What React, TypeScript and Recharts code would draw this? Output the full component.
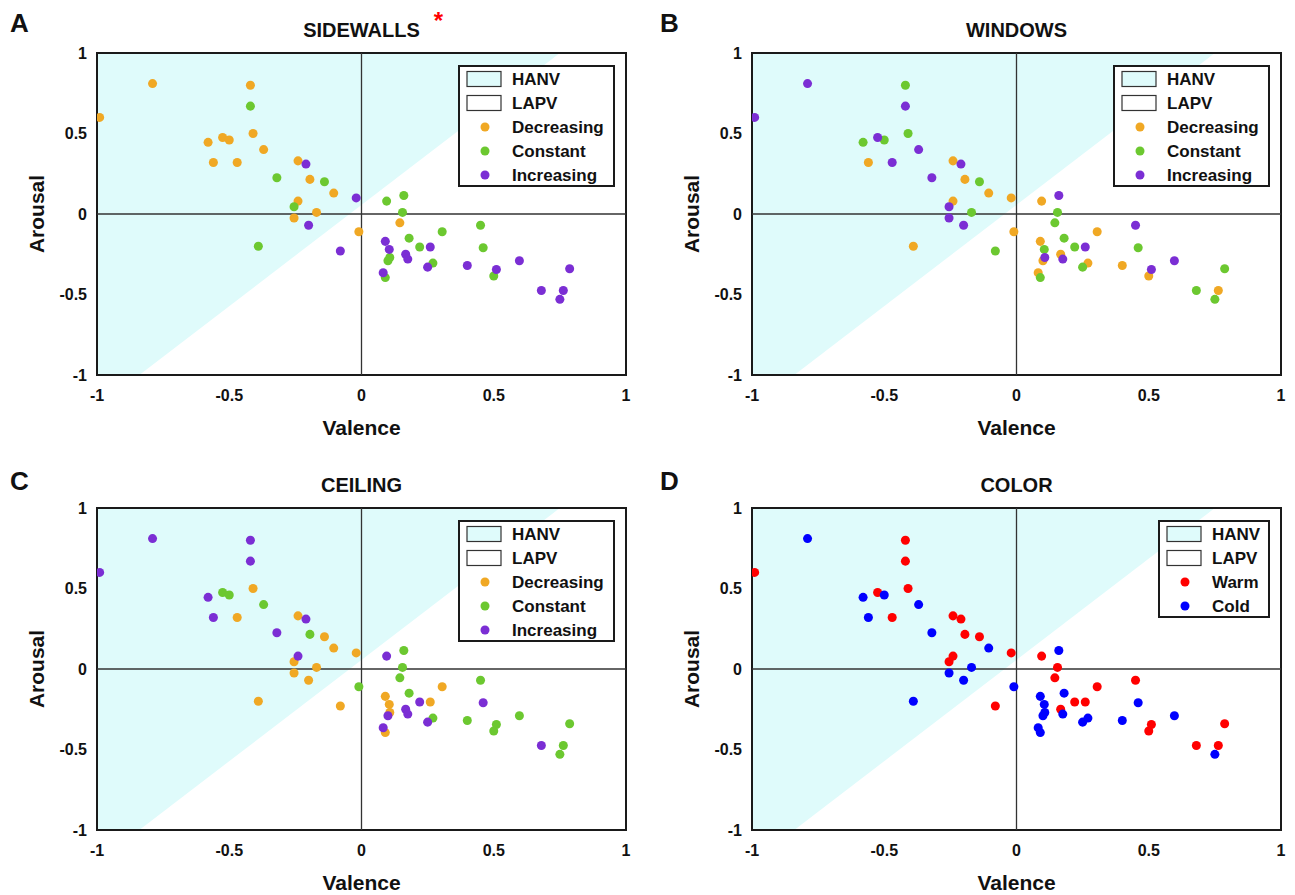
import React from 'react'
import {
  ComposedChart,
  Area,
  Scatter,
  XAxis,
  YAxis,
  ReferenceLine,
  ReferenceArea,
  Legend,
  Label,
} from 'recharts'

// one point per stimulus, same positions in every panel
const valence = [
  -0.79, -0.42, -0.42, -0.99, -0.58, -0.525, -0.5, -0.41, -0.37, -0.56,
  -0.47, -0.24, -0.21, -0.32, -0.195, -0.14, -0.105, -0.02, -0.24, -0.255,
  -0.17, -0.255, -0.2, -0.01, -0.39, -0.08,
  0.095, 0.16, 0.155, 0.145, 0.305, 0.45, 0.09, 0.18, 0.105, 0.22,
  0.26, 0.46, 0.107, 0.1, 0.167, 0.175, 0.27, 0.25, 0.4, 0.51,
  0.5, 0.597, 0.787, 0.082, 0.09, 0.68, 0.763, 0.75,
]
const arousal = [
  0.81, 0.8, 0.67, 0.6, 0.445, 0.475, 0.46, 0.5, 0.4, 0.32,
  0.32, 0.33, 0.31, 0.225, 0.215, 0.2, 0.13, 0.1, 0.08, 0.045,
  0.01, -0.025, -0.07, -0.11, -0.2, -0.23,
  0.08, 0.115, 0.01, -0.055, -0.11, -0.07, -0.17, -0.15, -0.22, -0.205,
  -0.205, -0.21, -0.27, -0.29, -0.25, -0.28, -0.305, -0.33, -0.32, -0.345,
  -0.385, -0.29, -0.34, -0.365, -0.395, -0.475, -0.475, -0.53,
]

// D = decreasing, C = constant, I = increasing / W = warm, K = cold
const sidewalls = ('DDCDDDDDDD' + 'DDICDCDIDC' + 'DDIDCI' + 'CCCDCCICIC' + 'ICCCIICIII' + 'CIIICIII').split('')
const windows = ('ICIICICCID' + 'IDIIDCDDDI' + 'CIIDDC' + 'DICCDIDCCC' + 'ICIDDIDCDI' + 'DICDCCDC').split('')
const ceiling = ('IIIIICCDCI' + 'DDIICDDDID' + 'DDDCDD' + 'ICCCDCDCDI' + 'DIDIIICICC' + 'CCCIDICC').split('')
const color = ('KWWWKWKWKK' + 'WWWKWWKWWW' + 'KKKKKW' + 'WKWWWWKKKW' + 'WKKKWKKKKW' + 'WKWKKWWK').split('')

// HANV region: filled band between low and high edge
const hanvValence = [-1, -0.84, 0.75]
const hanvLow = [-1, -1, 1]
const hanvHigh = [1, 1, 1]

const ticks = [-1, -0.5, 0, 0.5, 1]

const CYAN = '#dffbfb'
const FONT = '"Liberation Sans", Arial, Helvetica, sans-serif'

const trendGroups = [
  { key: 'D', name: 'Decreasing', color: '#f0a824' },
  { key: 'C', name: 'Constant', color: '#6cc830' },
  { key: 'I', name: 'Increasing', color: '#7b2ed4' },
]
const colorGroups = [
  { key: 'W', name: 'Warm', color: '#ff0000' },
  { key: 'K', name: 'Cold', color: '#0000ff' },
]

const panels = [
  { letter: 'A', title: 'SIDEWALLS', star: true, labels: sidewalls, groups: trendGroups, legendWidth: 157, left: 0, top: 0 },
  { letter: 'B', title: 'WINDOWS', star: false, labels: windows, groups: trendGroups, legendWidth: 157, left: 655, top: 0 },
  { letter: 'C', title: 'CEILING', star: false, labels: ceiling, groups: trendGroups, legendWidth: 157, left: 0, top: 455 },
  { letter: 'D', title: 'COLOR', star: false, labels: color, groups: colorGroups, legendWidth: 112, left: 655, top: 455 },
]

const W = 640
const H = 445
const PLOT_LEFT = 97
const PLOT_RIGHT = 626
const PLOT_TOP = 53

function LegendBox({ groups, width }) {
  const rows = [
    { kind: 'patch', name: 'HANV', fill: CYAN },
    { kind: 'patch', name: 'LAPV', fill: '#ffffff' },
    ...groups.map((g) => ({ kind: 'dot', name: g.name, fill: g.color })),
  ]
  const h = rows.length * 24 + 2
  return (
    <svg width={width} height={h} style={{ display: 'block' }}>
      <rect x={1} y={1} width={width - 2} height={h - 2} fill="#fff" stroke="#1a1a1a" strokeWidth={2} />
      {rows.map((r, i) => {
        const cy = 14 + i * 24
        return (
          <g key={r.name}>
            {r.kind === 'patch' ? (
              <rect x={9} y={cy - 7.5} width={34} height={15} fill={r.fill} stroke="#333" strokeWidth={1.2} />
            ) : (
              <circle cx={27} cy={cy} r={4.5} fill={r.fill} />
            )}
            <text x={54} y={cy} dominantBaseline="central" fontFamily={FONT} fontWeight="bold" fontSize={17} fill="#111">
              {r.name}
            </text>
          </g>
        )
      })}
    </svg>
  )
}

function Panel({ cfg }) {
  const hanvData = hanvValence.map((v, i) => ({ v, band: [hanvLow[i], hanvHigh[i]] }))
  const points = valence.map((v, i) => ({ v, a: arousal[i], k: cfg.labels[i] }))
  const legendH = (cfg.groups.length + 2) * 24 + 2
  const tickStyle = { fontFamily: FONT, fontWeight: 'bold', fontSize: 16, fill: '#111' }
  const labelStyle = { fontFamily: FONT, fontWeight: 'bold', fontSize: 21, fill: '#111' }

  return (
    <div style={{ position: 'absolute', left: cfg.left, top: cfg.top, width: W, height: H }}>
      <div
        style={{
          position: 'absolute',
          left: PLOT_LEFT,
          width: PLOT_RIGHT - PLOT_LEFT,
          top: 20,
          textAlign: 'center',
          fontFamily: FONT,
          fontWeight: 'bold',
          fontSize: 20,
          lineHeight: '20px',
          color: '#111',
        }}
      >
        <span style={{ position: 'relative' }}>
          {cfg.title}
          {cfg.star && (
            <span style={{ position: 'absolute', left: '100%', marginLeft: 14, top: -8, color: '#ff0000', fontSize: 24 }}>*</span>
          )}
        </span>
      </div>
      <ComposedChart width={W} height={H} margin={{ top: PLOT_TOP, right: W - PLOT_RIGHT, bottom: 10, left: 20 }}>
        <XAxis
          type="number"
          dataKey="v"
          domain={[-1, 1]}
          ticks={ticks}
          allowDataOverflow
          axisLine={false}
          tickLine={false}
          tickSize={0}
          tickMargin={15}
          tick={tickStyle}
          height={60}
        >
          <Label value="Valence" position="insideBottom" offset={0} style={labelStyle} />
        </XAxis>
        <YAxis
          type="number"
          domain={[-1, 1]}
          ticks={ticks}
          allowDataOverflow
          axisLine={false}
          tickLine={false}
          tickSize={0}
          tickMargin={10}
          tick={tickStyle}
          width={77}
        >
          <Label value="Arousal" angle={-90} position="insideLeft" offset={17} style={{ ...labelStyle, textAnchor: 'middle' }} />
        </YAxis>
        <Area
          data={hanvData}
          dataKey="band"
          type="linear"
          fill={CYAN}
          fillOpacity={1}
          stroke="none"
          dot={false}
          activeDot={false}
          legendType="none"
          isAnimationActive={false}
        />
        <ReferenceLine x={0} stroke="#333" strokeWidth={1.3} />
        <ReferenceLine y={0} stroke="#333" strokeWidth={1.3} />
        <ReferenceArea x1={-1} x2={1} y1={-1} y2={1} fill="none" stroke="#1a1a1a" strokeWidth={2} />
        {cfg.groups.map((g) => (
          <Scatter
            key={g.key}
            name={g.name}
            data={points.filter((p) => p.k === g.key)}
            dataKey="a"
            fill={g.color}
            isAnimationActive={false}
          />
        ))}
        <Legend
          layout="vertical"
          align="center"
          verticalAlign="middle"
          wrapperStyle={{
            left: PLOT_RIGHT - 11 - cfg.legendWidth,
            top: PLOT_TOP + 12,
            width: cfg.legendWidth,
            height: legendH,
          }}
          content={() => <LegendBox groups={cfg.groups} width={cfg.legendWidth} />}
        />
      </ComposedChart>
    </div>
  )
}

const letterPos = [
  { letter: 'A', left: 10, top: 10 },
  { letter: 'B', left: 660, top: 10 },
  { letter: 'C', left: 10, top: 468 },
  { letter: 'D', left: 660, top: 468 },
]

export default function App() {
  return (
    <div style={{ position: 'absolute', left: 0, top: 0, width: 1295, height: 895, background: '#fff' }}>
      {panels.map((p) => (
        <Panel key={p.letter} cfg={p} />
      ))}
      {letterPos.map((l) => (
        <div
          key={l.letter}
          style={{
            position: 'absolute',
            left: l.left,
            top: l.top,
            fontFamily: FONT,
            fontWeight: 'bold',
            fontSize: 26,
            lineHeight: '26px',
            color: '#111',
          }}
        >
          {l.letter}
        </div>
      ))}
    </div>
  )
}
